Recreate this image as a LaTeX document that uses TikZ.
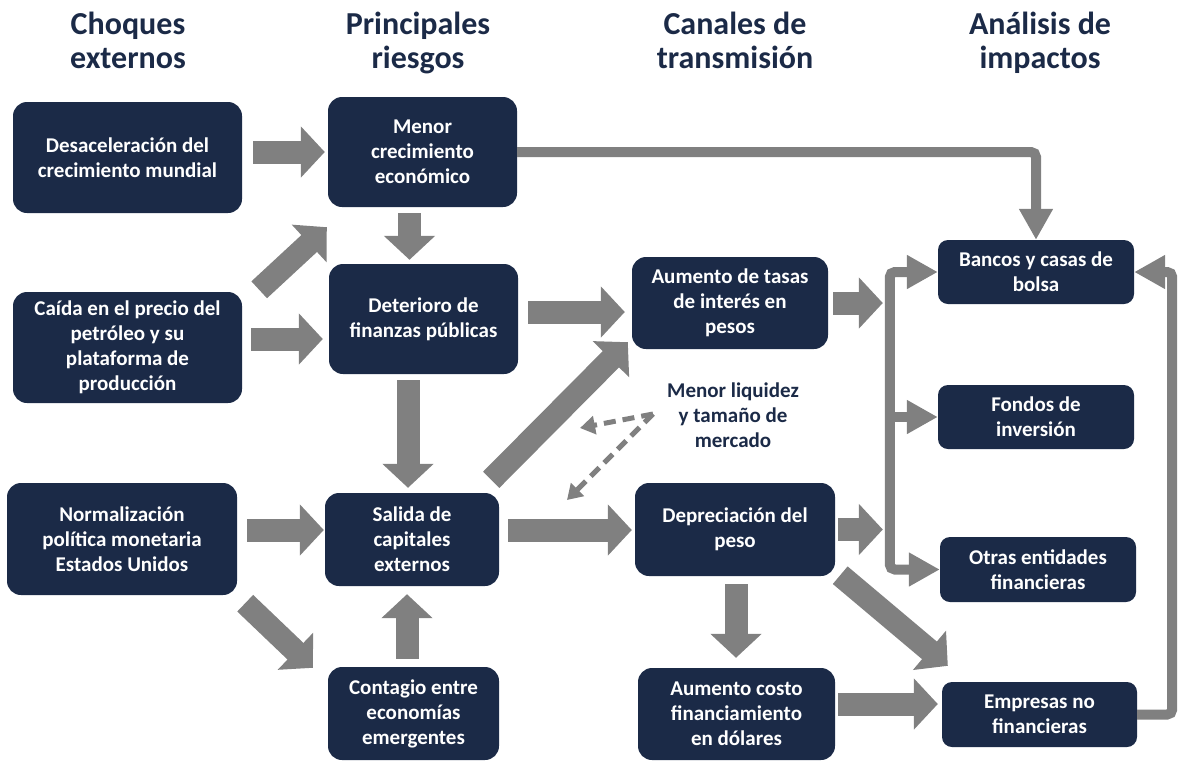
\documentclass[tikz,border=0pt]{standalone}
\usepackage{fontspec}
\setmainfont{Carlito}
\usepackage{tikz}
\usetikzlibrary{arrows.meta,positioning}
\definecolor{navy}{RGB}{27,42,71}
\definecolor{flowgray}{RGB}{128,128,128}
\newcommand{\hup}{\vphantom{l}}
\newcommand{\hdn}{\vphantom{p}}

\begin{document}
\begin{tikzpicture}[x=1pt, y=-1pt,
    box/.style={fill=navy, rounded corners=14pt, text=white, align=center,
                inner sep=0pt, font=\bfseries\fontsize{21}{25}\selectfont},
    impact/.style={box, rounded corners=10pt, minimum width=196pt, minimum height=64pt},
    hdr/.style={text=navy, align=center, font=\bfseries\fontsize{32}{34}\selectfont},
    lbl/.style={text=navy, align=center, font=\bfseries\fontsize{21}{25}\selectfont},
    blk/.style={draw=flowgray, line width=23pt, -{Triangle[length=24pt,width=50pt]}},
    lnk/.style={draw=flowgray, line width=10pt, rounded corners=5pt,
                -{Triangle[length=31pt,width=32pt]}},
    dsh/.style={draw=flowgray, line width=5pt, dash pattern=on 12pt off 7pt,
                -{Triangle[length=15pt,width=18pt]}}
]
\useasboundingbox (0,0) rectangle (1182,761);

% column headers
\node[hdr] (h1) at (128,43) {\hup Choques\\externos\hdn};
\node[hdr] (h2) at (418,43) {\hup Principales\\riesgos\hdn};
\node[hdr] (h3) at (735,43) {\hup Canales de\\transmisión\hdn};
\node[hdr] (h4) at (1040,43) {\hup Análisis de\\impactos\hdn};

% external shocks
\node[box, minimum width=229pt, minimum height=111pt] (desac) at (127.5,157.5) {Desaceleración del\\crecimiento mundial};
\node[box, minimum width=229pt, minimum height=111pt] (caida) at (127.5,347.5) {Caída en el precio del\\petróleo y su\\plataforma de\\producción};
\node[box, minimum width=230pt, minimum height=112pt] (norm) at (122,539) {Normalización\\política monetaria\\Estados Unidos};

% main risks
\node[box, minimum width=189pt, minimum height=110pt] (menor) at (422.5,152) {Menor\\crecimiento\\económico};
\node[box, minimum width=189pt, minimum height=110pt] (deter) at (423.5,319) {Deterioro de\\finanzas públicas};
\node[box, minimum width=174pt, minimum height=93pt] (salida) at (412,539.5) {Salida de\\capitales\\externos};
\node[box, minimum width=171pt, minimum height=93pt] (contagio) at (413.5,713.5) {Contagio entre\\economías\\emergentes};

% transmission channels
\node[box, minimum width=196pt, minimum height=92pt] (tasas) at (730,303) {Aumento de tasas\\de interés en\\pesos};
\node[box, minimum width=200pt, minimum height=93pt] (deprec) at (735,529.5) {Depreciación del\\peso};
\node[box, minimum width=197pt, minimum height=92pt] (costo) at (736.5,714) {Aumento costo\\financiamiento\\en dólares};
\node[lbl] (liq) at (733,415) {Menor liquidez\\y tamaño de\\mercado};

% impacts
\node[impact] (bancos) at (1036,272) {Bancos y casas de\\bolsa};
\node[impact] (fondos) at (1036,417) {Fondos de\\inversión};
\node[impact, minimum height=65pt] (otras) at (1038,569.5) {Otras entidades\\financieras};
\node[impact, minimum width=195pt, minimum height=65pt] (empresas) at (1039.5,714.5) {Empresas no\\financieras};

\coordinate (brtop) at ([xshift=-48pt]bancos.west);
\coordinate (brbot) at ([xshift=-50pt]otras.west);
\coordinate (rside) at ([xshift=35pt]empresas.east);
\coordinate (dsrc) at (653,414);
\coordinate (dtip1) at (580,428);
\coordinate (dtip2) at (567,500);

% block arrows
\draw[blk] ([shift={(11,-5.5)}]desac.east) -- ([shift={(-3,0)}]menor.west);
\draw[blk] ([shift={(17,-2)}]caida.north east) -- ([shift={(-1,20)}]menor.south west);
\draw[blk] ([shift={(9,-8.5)}]caida.east) -- ([shift={(-6,20)}]deter.west);
\draw[blk] ([shift={(10,-9)}]norm.east) -- ([shift={(-1,-9.5)}]salida.west);
\draw[blk] ([shift={(8,8)}]norm.south east) -- ([shift={(-15,1)}]contagio.north west);
\draw[blk] ([shift={(-13,6)}]menor.south) -- ([shift={(-14,-4)}]deter.north);
\draw[blk] ([shift={(-15.5,6)}]deter.south) -- ([shift={(-4,-5)}]salida.north);
\draw[blk] ([shift={(-6.5,-8)}]contagio.north) -- ([shift={(-5,8)}]salida.south);
\draw[blk] ([shift={(10,-7)}]deter.east) -- ([shift={(-7,9)}]tasas.west);
\draw[blk] ([shift={(-8,-13)}]salida.north east) -- ([shift={(-4,-7)}]tasas.south west);
\draw[blk] ([shift={(9,-9.5)}]salida.east) -- ([shift={(-3,0.5)}]deprec.west);
\draw[blk] ([shift={(5,0)}]tasas.east) -- ([shift={(-7,31)}]brtop);
\draw[blk] ([shift={(3,0)}]deprec.east) -- ([shift={(-7,-40)}]brbot);
\draw[blk] ([shift={(1,8)}]deprec.south) -- ([shift={(-0.5,-10)}]costo.north);
\draw[blk] ([shift={(5,-1)}]deprec.south east) -- ([shift={(6,-16)}]empresas.north west);
\draw[blk] ([shift={(3,-10)}]costo.east) -- ([shift={(-4,-10.5)}]empresas.west);

% thin connectors
\draw[lnk] (menor.east) -| (bancos.north);
\draw[lnk, {Triangle[length=31pt,width=32pt]}-{Triangle[length=31pt,width=32pt]}]
    (bancos.west) -- (brtop) -- (brbot) -- (otras.west);
\draw[lnk] (brtop |- fondos.west) -- (fondos.west);
\draw[lnk] (empresas.east) -- (rside) |- (bancos.east);

% dashed links
\draw[dsh] (dsrc) -- (dtip1);
\draw[dsh] (dsrc) -- (dtip2);
\end{tikzpicture}
\end{document}
